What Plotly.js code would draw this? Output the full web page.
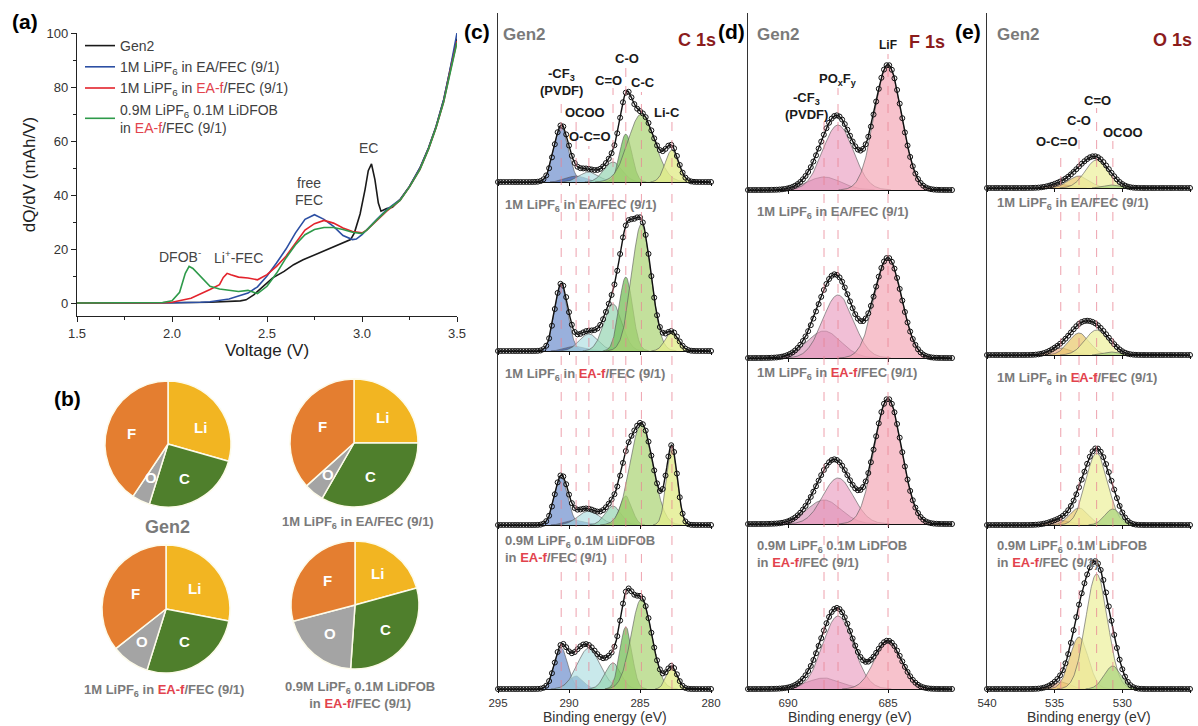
<!DOCTYPE html>
<html><head><meta charset="utf-8">
<script src="https://cdn.plot.ly/plotly-3.0.1.min.js"></script>
<style>html,body{margin:0;padding:0;background:#fff;}#chart{width:1198px;height:726px;}</style>
</head><body><div id="chart"></div>
<script>
// ================= DATA =================
// (a) dQ/dV curves
const gen2V = [1.50,1.80,2.00,2.20,2.30,2.36,2.39,2.43,2.48,2.53,2.59,2.64,2.69,2.74,2.80,2.85,2.90,2.94,2.96,2.99,3.016,3.033,3.05,3.068,3.086,3.10,3.13,3.16,3.20,3.25,3.305,3.35,3.39,3.43,3.46,3.50];
const gen2Y = [0.0,0.0,0.1,0.3,0.5,0.8,1.2,3.0,6.2,9.3,11.7,14.2,16.0,17.5,19.1,20.7,22.2,23.5,26.0,33.0,42.0,49.0,51.5,45.7,37.0,34.0,35.0,35.5,38.3,43.2,50.0,57.4,65.4,75.3,85.2,98.0];
const eaV = [1.50,1.80,2.00,2.15,2.20,2.30,2.40,2.45,2.50,2.55,2.60,2.65,2.70,2.75,2.80,2.85,2.90,2.95,2.97,3.00,3.025,3.077,3.13,3.20,3.25,3.305,3.35,3.39,3.43,3.46,3.50];
const eaY = [0,0,0.1,0.3,0.5,1.5,3.7,6.0,10.0,14.8,20.0,26.0,31.0,32.7,31.0,28.4,25.0,23.5,23.7,25.3,27.0,30.9,34.6,38.3,43.2,50.0,57.4,65.4,75.3,85.2,100];
const eafV = [1.50,1.80,1.95,2.00,2.10,2.20,2.25,2.27,2.29,2.31,2.35,2.40,2.45,2.50,2.55,2.60,2.65,2.70,2.75,2.80,2.85,2.90,2.95,3.00,3.025,3.077,3.13,3.20,3.25,3.305,3.35,3.39,3.43,3.46,3.50];
const eafY = [0,0,0.1,0.3,1.8,5.0,6.8,9.5,11.0,10.5,9.6,9.3,8.6,10.5,13.6,17.3,22.0,27.0,29.4,30.6,29.6,27.8,26.5,26.0,27.0,30.5,34.0,38.0,43.0,49.5,57.0,65.0,74.5,84.5,97.0];
const dfobV = [1.50,1.80,1.95,2.00,2.04,2.07,2.09,2.11,2.15,2.20,2.25,2.30,2.35,2.40,2.45,2.50,2.55,2.60,2.65,2.70,2.75,2.80,2.85,2.90,2.95,3.00,3.025,3.077,3.13,3.20,3.25,3.305,3.35,3.39,3.43,3.46,3.50];
const dfobY = [0,0,0.2,0.8,4.0,11.0,13.6,12.8,9.9,6.2,5.2,4.7,4.3,4.7,3.5,6.2,11.0,16.7,21.6,25.3,27.2,28.0,28.0,27.2,26.2,25.7,27.0,30.7,34.3,38.0,43.0,49.5,57.0,65.0,74.5,84.0,96.5];

// (b) SEI elemental composition (%), slices in order Li, C, O, F
const pieLabels = ['Li','C','O','F'];
const pieGen2 = [29.4, 25.4, 4.6, 40.6];
const pieEA   = [25.0, 33.3, 5.0, 36.7];
const pieEAf  = [28.0, 26.8, 9.6, 35.6];
const pieDFOB = [20.7, 30.4, 19.8, 29.1];

// (c) C 1s fitted components: centre (eV), height (a.u.), FWHM (eV) per electrolyte
const c1sNames   = ['-CF3 (PVDF)','OCOO','O-C=O','C=O','C-O','C-C','Li-C'];
const c1sCenters = [290.55, 289.5, 288.6, 286.9, 286.0, 284.9, 282.75];
const c1sHeightGen2 = [55, 6, 10, 20, 48, 68, 32];
const c1sHeightEA   = [66, 5, 17, 47, 74, 127, 19];
const c1sHeightEAf  = [48, 5, 14, 19, 29, 101, 77];
const c1sHeightDFOB = [41, 13, 41, 26, 62, 90, 22];
const c1sFwhmGen2 = [1.2, 1.6, 1.6, 1.5, 1.0, 2.2, 1.1];
const c1sFwhmEA   = [1.1, 1.6, 1.6, 1.5, 1.1, 1.6, 1.1];
const c1sFwhmEAf  = [1.1, 1.6, 1.8, 1.3, 1.0, 1.9, 0.9];
const c1sFwhmDFOB = [1.1, 1.2, 1.9, 1.3, 1.0, 1.7, 0.9];

// (d) F 1s fitted components
const f1sNames   = ['-CF3 (PVDF)','POxFy','LiF'];
const f1sCenters = [688.2, 687.5, 685.0];
const f1sHeightGen2 = [13, 65, 125];
const f1sHeightEA   = [27, 63, 100];
const f1sHeightEAf  = [24, 46, 125];
const f1sHeightDFOB = [11, 73, 48];
const f1sFwhm = [2.0, 1.8, 1.6];

// (e) O 1s fitted components
const o1sNames   = ['O-C=O','C-O','C=O','OCOO'];
const o1sCenters = [534.55, 533.2, 531.9, 530.7];
const o1sHeightGen2 = [4, 12, 28, 3];
const o1sHeightEA   = [7, 22, 25, 3];
const o1sHeightEAf  = [5, 17, 72, 16];
const o1sHeightDFOB = [7, 52, 115, 23];
const o1sFwhmGen2 = [1.8, 1.8, 2.0, 1.5];
const o1sFwhmEA   = [1.8, 1.8, 2.0, 1.5];
const o1sFwhmEAf  = [1.8, 1.6, 1.9, 1.4];
const o1sFwhmDFOB = [1.6, 1.6, 1.9, 1.5];

// ================= STYLE / LAYOUT =================
const W = 1198, H = 726;
const FONT = 'Arial, "Liberation Sans", Helvetica, sans-serif';
const RED = '#E2434D';
const GRAY = '#7a7a7a';
const px = v => v / W, py = v => 1 - v / H;
const sub6 = 'LiPF<sub>6</sub>';
const redEAf = '<span style="color:' + RED + '">EA-f</span>';
const rowTitles = [
  '<b>Gen2</b>',
  '<b>1M ' + sub6 + ' in EA/FEC (9/1)</b>',
  '<b>1M ' + sub6 + ' in ' + redEAf + '/FEC (9/1)</b>',
  '<b>0.9M ' + sub6 + ' 0.1M LiDFOB<br>in ' + redEAf + '/FEC (9/1)</b>'
];

const traces = [];
const layout = {
  width: W, height: H, margin: {l:0, r:0, t:0, b:0},
  paper_bgcolor: '#fff', plot_bgcolor: 'rgba(0,0,0,0)',
  font: {family: FONT, color: '#333'},
  showlegend: true,
  legend: {x: px(80), y: py(30), xanchor: 'left', yanchor: 'top', bgcolor: 'rgba(0,0,0,0)',
           font: {size: 14, color: '#404040', family: FONT}, tracegroupgap: 0, itemwidth: 30},
  annotations: [], shapes: []
};
const txt = (text, x, y, size, color, extra) => layout.annotations.push(Object.assign({text, x:px(x), y:py(y),
  xref:'paper', yref:'paper', xanchor:'center', yanchor:'middle', showarrow:false,
  font:{size, color, family:FONT}}, extra || {}));

// ---------- (a) ----------
const aSeries = [
  {x: gen2V, y: gen2Y, name: 'Gen2', color: '#1a1a1a'},
  {x: eaV, y: eaY, name: '1M ' + sub6 + ' in EA/FEC (9/1)', color: '#2C4FA3'},
  {x: eafV, y: eafY, name: '1M ' + sub6 + ' in ' + redEAf + '/FEC (9/1)', color: '#E3232C'},
  {x: dfobV, y: dfobY, name: '0.9M ' + sub6 + ' 0.1M LiDFOB<br>in ' + redEAf + '/FEC (9/1)', color: '#2E9A4A'}
];
aSeries.forEach(s => traces.push({type:'scatter', mode:'lines', x:s.x, y:s.y, name:s.name,
  line:{color:s.color, width:1.6}, xaxis:'x', yaxis:'y', hoverinfo:'skip'}));
layout.xaxis = {domain:[px(77), px(457)], range:[1.5,3.5], tick0:1.5, dtick:0.5, tickformat:'.1f',
  ticks:'outside', ticklen:5, tickcolor:'#222', minor:{ticks:'outside', ticklen:3, dtick:0.25, tick0:1.5, tickcolor:'#222'},
  showline:true, linecolor:'#222', linewidth:1.2, showgrid:false, zeroline:false, anchor:'y', automargin:false,
  tickfont:{size:13, color:'#333'}, title:{text:'Voltage (V)', font:{size:17, color:'#222'}, standoff:4}};
layout.yaxis = {domain:[py(316), py(33)], range:[-4.8,100], tick0:0, dtick:20,
  ticks:'outside', ticklen:5, tickcolor:'#222', minor:{ticks:'outside', ticklen:3, dtick:10, tick0:0, tickcolor:'#222'},
  showline:true, linecolor:'#222', linewidth:1.2, showgrid:false, zeroline:false, anchor:'x', automargin:false,
  tickfont:{size:13, color:'#333'}, title:{text:'dQ/dV (mAh/V)', font:{size:17, color:'#222'}, standoff:6}};
const aNote = (text, x, y) => layout.annotations.push({text, x, y, xref:'x', yref:'y', xanchor:'center', yanchor:'middle',
  showarrow:false, font:{size:14, color:'#444', family:FONT}});
aNote('EC', 3.035, 57.4);
aNote('free', 2.72, 44.4);
aNote('FEC', 2.72, 38.2);
aNote('DFOB<sup>-</sup>', 2.04, 17.5);
aNote('Li<sup>+</sup>-FEC', 2.35, 17.0);

// ---------- (b) pies ----------
const pieColors = ['#F2B522', '#4F7F2C', '#A4A4A4', '#E47E30'];
const pies = [
  {v: pieGen2, cx:168, cy:444, r:63, lab:[[200,427],[184,478],[151,477],[131,433]]},
  {v: pieEA,   cx:354, cy:443, r:64, lab:[[382,417],[370,476],[328,474],[322,426]]},
  {v: pieEAf,  cx:166, cy:609, r:64, lab:[[195,588],[184,641],[142,641],[135,593]]},
  {v: pieDFOB, cx:355, cy:605, r:64, lab:[[377,573],[385,629],[330,633],[327,580]]}
];
pies.forEach(p => {
  traces.push({type:'pie', values:p.v, labels:pieLabels, sort:false, direction:'clockwise', rotation:0,
    marker:{colors:pieColors, line:{color:'#fdfbea', width:1.5}}, textinfo:'none', hoverinfo:'skip', showlegend:false,
    domain:{x:[px(p.cx-p.r), px(p.cx+p.r)], y:[py(p.cy+p.r), py(p.cy-p.r)]}});
  pieLabels.forEach((l, i) => txt('<b>' + l + '</b>', p.lab[i][0], p.lab[i][1], 15, '#fff'));
});
txt('<b>Gen2</b>', 167, 527, 18, GRAY);
txt(rowTitles[1], 358, 522, 13, GRAY);
txt(rowTitles[2], 164, 690, 13, GRAY);
txt(rowTitles[3], 360, 695, 13, GRAY);

// ---------- (c)(d)(e) XPS ----------
function gauss(x, c, h, w) { return h * Math.exp(-4 * Math.LN2 * (x - c) * (x - c) / (w * w)); }
function grid(a, b, step) { const n = Math.round(Math.abs(b - a) / step), out = [];
  for (let i = 0; i <= n; i++) out.push(a + (b - a) * i / n); return out; }

const panels = [
  {xr:[498,711], range:[295,280], tick0:280, top:13, base:[182,351,525,689], ax0:2,
   centers:c1sCenters, heights:[c1sHeightGen2,c1sHeightEA,c1sHeightEAf,c1sHeightDFOB],
   fwhm:[c1sFwhmGen2,c1sFwhmEA,c1sFwhmEAf,c1sFwhmDFOB], mstep:0.2,
   fills:['rgba(135,162,214,0.85)','rgba(70,100,178,0.75)','rgba(178,224,226,0.7)','rgba(150,212,178,0.7)',
          'rgba(118,190,88,0.75)','rgba(172,212,118,0.72)','rgba(226,236,140,0.8)'],
   dashTop:[98,120,146,88,66,92,121],
   labels:[['-CF<sub>3</sub>',561,75,13],['(PVDF)',561,91,13],['OCOO',585,113,13],['O-C=O',590,137,13],['C=O',608,80,13],
           ['C-O',627,58,13],['C-C',643,83,13],['Li-C',667,113,13]],
   title:['C 1s',697,40], letter:['(c)',477,31], rowLab:[[501,34],[503,205],[503,375],[503,549]]},
  {xr:[748,952], range:[692,681.8], tick0:680, top:13, base:[190,358,524,689], ax0:6,
   centers:f1sCenters, heights:[f1sHeightGen2,f1sHeightEA,f1sHeightEAf,f1sHeightDFOB],
   fwhm:[f1sFwhm,f1sFwhm,f1sFwhm,f1sFwhm], mstep:0.13,
   fills:['rgba(205,125,170,0.55)','rgba(232,148,186,0.6)','rgba(243,168,182,0.7)'],
   dashTop:[121,88,54],
   labels:[['LiF',888,45,12],['PO<sub>x</sub>F<sub>y</sub>',838,79,13],['-CF<sub>3</sub>',806,98,13],['(PVDF)',806,114,13]],
   title:['F 1s',927,42], letter:['(d)',731,31], rowLab:[[755,34],[755,212],[755,373],[755,554]]},
  {xr:[987,1190], range:[540,525], tick0:525, top:13, base:[188,355,525,689], ax0:10,
   centers:o1sCenters, heights:[o1sHeightGen2,o1sHeightEA,o1sHeightEAf,o1sHeightDFOB],
   fwhm:[o1sFwhmGen2,o1sFwhmEA,o1sFwhmEAf,o1sFwhmDFOB], mstep:0.2,
   fills:['rgba(240,178,140,0.7)','rgba(232,200,105,0.7)','rgba(238,240,160,0.75)','rgba(172,214,128,0.75)'],
   dashTop:[150,129,108,141],
   labels:[['O-C=O',1057,141,13],['C-O',1079,121,13],['C=O',1097,100,13],['OCOO',1123,132,13]],
   title:['O 1s',1172,40], letter:['(e)',968,31], rowLab:[[995,34],[995,204],[995,378],[995,554]]}
];

panels.forEach(P => {
  const lo = Math.min(P.range[0], P.range[1]), hi = Math.max(P.range[0], P.range[1]);
  const fine = grid(lo, hi, 0.03), coarse = grid(lo, hi, P.mstep);
  for (let r = 0; r < 4; r++) {
    const k = P.ax0 + r, xa = 'x' + k, ya = 'y' + k;
    const topPx = r === 0 ? P.top : P.base[r - 1], basePx = P.base[r];
    const hs = P.heights[r], ws = P.fwhm[r];
    P.centers.forEach((c, j) => {
      const xs = [], ys = [];
      fine.forEach(x => { const v = gauss(x, c, hs[j], ws[j]); if (v > 0.15) { xs.push(x); ys.push(v); } });
      traces.push({type:'scatter', mode:'lines', x:xs, y:ys, fill:'tozeroy', fillcolor:P.fills[j],
        line:{color:'rgba(85,85,85,0.75)', width:0.8}, xaxis:xa, yaxis:ya, showlegend:false, hoverinfo:'skip'});
    });
    const env = xs => xs.map(x => P.centers.reduce((s, c, j) => s + gauss(x, c, hs[j], ws[j]), 0));
    traces.push({type:'scatter', mode:'lines', x:fine, y:env(fine), line:{color:'#111', width:1.4},
      xaxis:xa, yaxis:ya, showlegend:false, hoverinfo:'skip'});
    traces.push({type:'scatter', mode:'markers', x:coarse, y:env(coarse), cliponaxis:false,
      marker:{symbol:'circle-open', size:5, color:'#111', line:{width:1, color:'#111'}},
      xaxis:xa, yaxis:ya, showlegend:false, hoverinfo:'skip'});
    const last = r === 3;
    layout['xaxis' + k] = {domain:[px(P.xr[0]), px(P.xr[1])], range:P.range, anchor:ya, tick0:P.tick0, dtick:5,
      ticks:'outside', ticklen:3, tickcolor:'#111', showline:true, linecolor:'#111', linewidth:1.3,
      showgrid:false, zeroline:false, automargin:false, showticklabels:last,
      tickfont:{size:11.5, color:'#333'}};
    layout['yaxis' + k] = {domain:[py(basePx), py(topPx)], range:[0, basePx - topPx], anchor:xa,
      showline:true, linecolor:'#333', linewidth:1.2, ticks:'', showticklabels:false, showgrid:false,
      zeroline:false, automargin:false};
    txt(r === 0 ? '<b>Gen2</b>' : rowTitles[r], P.rowLab[r][0], P.rowLab[r][1], r === 0 ? 17 : 13, GRAY,
      {xanchor:'left', align:'left'});
  }
  const xb = 'x' + (P.ax0 + 3);
  P.centers.forEach((c, j) => layout.shapes.push({type:'line', xref:xb, yref:'paper', x0:c, x1:c,
    y0:py(P.base[3]), y1:py(P.dashTop[j]), layer:'above',
    line:{color:'rgba(232,130,145,0.75)', width:1, dash:'dash'}}));
  P.labels.forEach(l => txt('<b>' + l[0] + '</b>', l[1], l[2], l[3], '#1a1a1a'));
  txt('<b>' + P.title[0] + '</b>', P.title[1], P.title[2], 18, '#8B1C1C');
  txt('<b>' + P.letter[0] + '</b>', P.letter[1], P.letter[2], 21, '#000');
  txt('Binding energy (eV)', (P.xr[0] + P.xr[1]) / 2, 717, 14, '#333');
});

txt('<b>(a)</b>', 25, 21, 21, '#000');
txt('<b>(b)</b>', 67, 399, 21, '#000');

Plotly.newPlot('chart', traces, layout, {staticPlot:true, displayModeBar:false});
</script></body></html>
